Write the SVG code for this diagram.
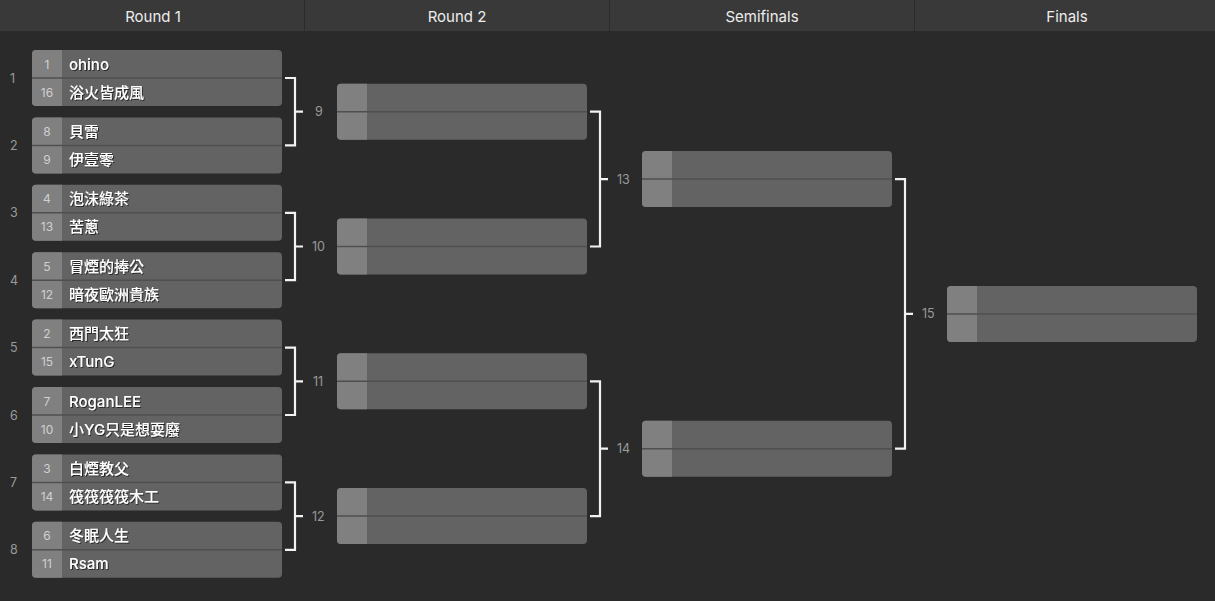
<svg xmlns="http://www.w3.org/2000/svg" width="1215" height="601" viewBox="0 0 1215 601">
<defs>
<style>
.hdr{fill:#393939}
.sep{stroke:#2b2b2b;stroke-width:1}
.ht{font-family:Inter,"Noto Sans","Noto Sans CJK TC",sans-serif;font-size:15px;fill:#ededed;text-anchor:middle;dominant-baseline:central}
.box{fill:#636363}
.sc{fill:#808080}
.div{stroke:#4f4f4f;stroke-width:1.5}
.seed{font-family:Inter,"Noto Sans",sans-serif;font-size:12px;fill:#d0d0d0;text-anchor:middle;dominant-baseline:central}
.nm{font-family:Inter,"Noto Sans","Noto Sans CJK TC",sans-serif;font-size:15px;font-weight:500;fill:#ffffff;dominant-baseline:central;filter:url(#sh)}
.ml{font-family:Inter,"Noto Sans",sans-serif;font-size:12.5px;fill:#9a9a9a;dominant-baseline:central}
.br{fill:none;stroke:#f2f2f2;stroke-width:2.2}
</style>
<filter id="sh" x="-10%" y="-30%" width="120%" height="160%">
<feDropShadow dx="1" dy="1" stdDeviation="0.6" flood-color="#000" flood-opacity="0.6"/>
</filter>
<g id="mbox">
<rect class="box" x="0" y="0" width="250" height="56" rx="4"/>
<path class="sc" d="M4,0 H30 V56 H4 A4,4 0 0 1 0,52 V4 A4,4 0 0 1 4,0 Z"/>
<line class="div" x1="0" y1="28" x2="250" y2="28"/>
</g>
</defs>
<rect x="0" y="0" width="1215" height="601" fill="#2a2a2a"/>
<g id="header">
<rect class="hdr" x="0" y="0" width="1215" height="31"/>
<line class="sep" x1="304.5" y1="0" x2="304.5" y2="31"/>
<line class="sep" x1="609.5" y1="0" x2="609.5" y2="31"/>
<line class="sep" x1="914.5" y1="0" x2="914.5" y2="31"/>
<text class="ht" x="153" y="16">Round 1</text>
<text class="ht" x="457" y="16">Round 2</text>
<text class="ht" x="762" y="16">Semifinals</text>
<text class="ht" x="1067" y="16">Finals</text>
</g>
<g id="connectors">
<path class="br" d="M285,78 H295 V145.4 H285 M295,111.7 H303"/>
<path class="br" d="M285,212.8 H295 V280.2 H285 M295,246.5 H303"/>
<path class="br" d="M285,347.6 H295 V415 H285 M295,381.3 H303"/>
<path class="br" d="M285,482.4 H295 V549.8 H285 M295,516.1 H303"/>
<path class="br" d="M590,111.7 H600 V246.5 H590 M600,179.1 H608"/>
<path class="br" d="M590,381.3 H600 V516.1 H590 M600,448.7 H608"/>
<path class="br" d="M895,179.1 H905 V448.7 H895 M905,313.9 H913"/>
<text class="ml" x="315" y="111.7">9</text>
<text class="ml" x="312" y="246.5">10</text>
<text class="ml" x="313" y="381.3">11</text>
<text class="ml" x="312" y="516.1">12</text>
<text class="ml" x="617" y="179.1">13</text>
<text class="ml" x="617" y="448.7">14</text>
<text class="ml" x="922" y="313.9">15</text>
</g>
<g id="m1"><text class="ml" x="10" y="78">1</text><use href="#mbox" x="32" y="50"/><text class="seed" x="47" y="64">1</text><text class="seed" x="47" y="92">16</text><text class="nm" x="69" y="64">ohino</text><text class="nm" x="69" y="92">浴火皆成風</text></g>
<g id="m2"><text class="ml" x="10" y="145.4">2</text><use href="#mbox" x="32" y="117.4"/><text class="seed" x="47" y="131.4">8</text><text class="seed" x="47" y="159.4">9</text><text class="nm" x="69" y="131.4">貝雷</text><text class="nm" x="69" y="159.4">伊壹零</text></g>
<g id="m3"><text class="ml" x="10" y="212.8">3</text><use href="#mbox" x="32" y="184.8"/><text class="seed" x="47" y="198.8">4</text><text class="seed" x="47" y="226.8">13</text><text class="nm" x="69" y="198.8">泡沫綠茶</text><text class="nm" x="69" y="226.8">苦蔥</text></g>
<g id="m4"><text class="ml" x="10" y="280.2">4</text><use href="#mbox" x="32" y="252.2"/><text class="seed" x="47" y="266.2">5</text><text class="seed" x="47" y="294.2">12</text><text class="nm" x="69" y="266.2">冒煙的捧公</text><text class="nm" x="69" y="294.2">暗夜歐洲貴族</text></g>
<g id="m5"><text class="ml" x="10" y="347.6">5</text><use href="#mbox" x="32" y="319.6"/><text class="seed" x="47" y="333.6">2</text><text class="seed" x="47" y="361.6">15</text><text class="nm" x="69" y="333.6">西門太狂</text><text class="nm" x="69" y="361.6">xTunG</text></g>
<g id="m6"><text class="ml" x="10" y="415">6</text><use href="#mbox" x="32" y="387"/><text class="seed" x="47" y="401">7</text><text class="seed" x="47" y="429">10</text><text class="nm" x="69" y="401">RoganLEE</text><text class="nm" x="69" y="429">小YG只是想耍廢</text></g>
<g id="m7"><text class="ml" x="10" y="482.4">7</text><use href="#mbox" x="32" y="454.4"/><text class="seed" x="47" y="468.4">3</text><text class="seed" x="47" y="496.4">14</text><text class="nm" x="69" y="468.4">白煙教父</text><text class="nm" x="69" y="496.4">筏筏筏筏木工</text></g>
<g id="m8"><text class="ml" x="10" y="549.8">8</text><use href="#mbox" x="32" y="521.8"/><text class="seed" x="47" y="535.8">6</text><text class="seed" x="47" y="563.8">11</text><text class="nm" x="69" y="535.8">冬眠人生</text><text class="nm" x="69" y="563.8">Rsam</text></g>
<g id="m9"><use href="#mbox" x="337" y="83.7"/></g>
<g id="m10"><use href="#mbox" x="337" y="218.5"/></g>
<g id="m11"><use href="#mbox" x="337" y="353.3"/></g>
<g id="m12"><use href="#mbox" x="337" y="488.1"/></g>
<g id="m13"><use href="#mbox" x="642" y="151.1"/></g>
<g id="m14"><use href="#mbox" x="642" y="420.7"/></g>
<g id="m15"><use href="#mbox" x="947" y="285.9"/></g>
</svg>
